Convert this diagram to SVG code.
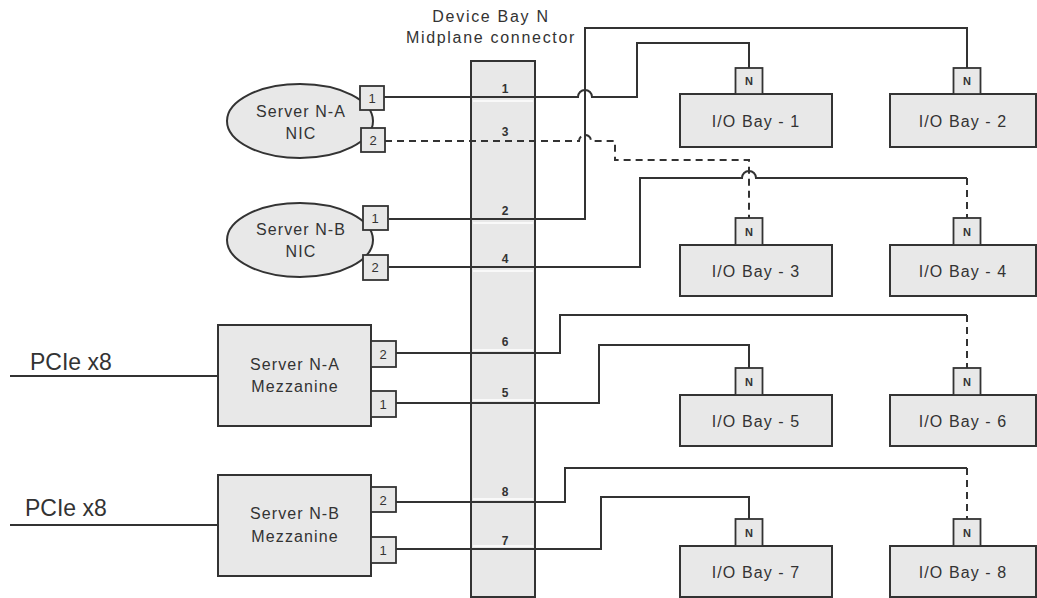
<svg xmlns="http://www.w3.org/2000/svg" width="1037" height="598" viewBox="0 0 1037 598">
<style>
  .box{fill:#e8e8e8;stroke:#333;stroke-width:2}
  .port{fill:#e8e8e8;stroke:#333;stroke-width:1.8}
  .ln{fill:none;stroke:#333;stroke-width:2}
  .dash{fill:none;stroke:#333;stroke-width:2;stroke-dasharray:7,5}
  .sep{stroke:#ffffff;stroke-width:1.5}
  text{font-family:"Liberation Sans",Arial,sans-serif;fill:#333;text-anchor:middle}
  .lbl{font-size:16px;letter-spacing:1.1px}
  .ttl{font-size:16px;letter-spacing:1.7px}
  .num{font-size:12px;font-weight:bold}
  .pn{font-size:13px}
  .n{font-size:11px;font-weight:bold}
  .pcie{font-size:23px;text-anchor:start}
</style>
<rect width="1037" height="598" fill="#ffffff"/>

<g id="title">
  <text class="ttl" x="491" y="22">Device Bay N</text>
  <text class="ttl" x="491" y="43">Midplane connector</text>
</g>

<g id="midplane">
  <rect class="box" x="471" y="61" width="64" height="536"/>
  <line class="sep" x1="473" y1="101" x2="533" y2="101"/>
  <line class="sep" x1="473" y1="223" x2="533" y2="223"/>
  <line class="sep" x1="473" y1="271" x2="533" y2="271"/>
  <line class="sep" x1="473" y1="350" x2="533" y2="350"/>
  <line class="sep" x1="473" y1="400" x2="533" y2="400"/>
  <line class="sep" x1="473" y1="499" x2="533" y2="499"/>
  <line class="sep" x1="473" y1="546" x2="533" y2="546"/>
  <text class="num" x="505" y="93">1</text>
  <text class="num" x="505" y="136">3</text>
  <text class="num" x="505" y="215">2</text>
  <text class="num" x="505" y="263">4</text>
  <text class="num" x="505" y="346">6</text>
  <text class="num" x="505" y="397">5</text>
  <text class="num" x="505" y="496">8</text>
  <text class="num" x="505" y="545">7</text>
</g>

<g id="connectors">
  <path class="ln" d="M10,376 L218,376"/>
  <path class="ln" d="M10,525 L218,525"/>
  <path class="ln" d="M389,219 L585,219 L585,28 L967,28 L967,68"/>
  <path class="ln" d="M384,97 L578,97 A7,7 0 0 1 592,97 L637,97 L637,43 L749,43 L749,68"/>
  <path class="dash" d="M385,141 L579,141 A6,6 0 0 1 591,141 L615,141 L615,160 L749,160 L749,218"/>
  <path class="ln" d="M389,267 L640,267 L640,178 L742,178 A7,7 0 0 1 756,178 L967,178"/>
  <path class="dash" d="M967,178 L967,218"/>
  <path class="ln" d="M396,353 L560,353 L560,315 L967,315"/>
  <path class="dash" d="M967,315 L967,368"/>
  <path class="ln" d="M396,403 L599,403 L599,345 L749,345 L749,368"/>
  <path class="ln" d="M396,502 L565,502 L565,468 L967,468"/>
  <path class="dash" d="M967,468 L967,519"/>
  <path class="ln" d="M396,549 L601,549 L601,497 L749,497 L749,519"/>
</g>

<g id="pcie-a"><text class="pcie" x="30" y="370">PCIe x8</text></g>
<g id="pcie-b"><text class="pcie" x="25" y="516">PCIe x8</text></g>

<g id="nic-a">
  <ellipse class="box" cx="300" cy="121" rx="73" ry="37" stroke-width="1.6"/>
  <text class="lbl" x="301" y="117">Server N-A</text>
  <text class="lbl" x="301" y="139">NIC</text>
  <rect class="port" x="360" y="86" width="24" height="24"/>
  <text class="pn" x="372" y="103">1</text>
  <rect class="port" x="361" y="128" width="24" height="24"/>
  <text class="pn" x="373" y="145">2</text>
</g>

<g id="nic-b">
  <ellipse class="box" cx="300" cy="240" rx="73" ry="37" stroke-width="1.6"/>
  <text class="lbl" x="301" y="235">Server N-B</text>
  <text class="lbl" x="301" y="257">NIC</text>
  <rect class="port" x="363" y="206" width="25" height="24"/>
  <text class="pn" x="375" y="223">1</text>
  <rect class="port" x="363" y="255" width="25" height="25"/>
  <text class="pn" x="375" y="272">2</text>
</g>

<g id="mezz-a">
  <rect class="box" x="218" y="325" width="153" height="101"/>
  <text class="lbl" x="295" y="370">Server N-A</text>
  <text class="lbl" x="295" y="392">Mezzanine</text>
  <rect class="port" x="371" y="341" width="25" height="26"/>
  <text class="pn" x="383" y="359">2</text>
  <rect class="port" x="371" y="391" width="25" height="26"/>
  <text class="pn" x="383" y="409">1</text>
</g>

<g id="mezz-b">
  <rect class="box" x="218" y="475" width="153" height="101"/>
  <text class="lbl" x="295" y="519">Server N-B</text>
  <text class="lbl" x="295" y="542">Mezzanine</text>
  <rect class="port" x="371" y="487" width="25" height="25"/>
  <text class="pn" x="383" y="505">2</text>
  <rect class="port" x="371" y="537" width="25" height="26"/>
  <text class="pn" x="383" y="555">1</text>
</g>

<g id="io-bay-1">
  <rect class="box" x="680" y="94" width="152" height="53"/>
  <rect class="port" x="735.5" y="68" width="27" height="26"/>
  <text class="n" x="749" y="85">N</text>
  <text class="lbl" x="756" y="127">I/O Bay - 1</text>
</g>
<g id="io-bay-2">
  <rect class="box" x="890" y="94" width="146" height="53"/>
  <rect class="port" x="953.5" y="68" width="27" height="26"/>
  <text class="n" x="967" y="85">N</text>
  <text class="lbl" x="963" y="127">I/O Bay - 2</text>
</g>
<g id="io-bay-3">
  <rect class="box" x="680" y="245" width="152" height="51"/>
  <rect class="port" x="735.5" y="218" width="27" height="27"/>
  <text class="n" x="749" y="236">N</text>
  <text class="lbl" x="756" y="277">I/O Bay - 3</text>
</g>
<g id="io-bay-4">
  <rect class="box" x="890" y="245" width="146" height="51"/>
  <rect class="port" x="953.5" y="218" width="27" height="27"/>
  <text class="n" x="967" y="236">N</text>
  <text class="lbl" x="963" y="277">I/O Bay - 4</text>
</g>
<g id="io-bay-5">
  <rect class="box" x="680" y="395" width="152" height="51"/>
  <rect class="port" x="735.5" y="368" width="27" height="27"/>
  <text class="n" x="749" y="386">N</text>
  <text class="lbl" x="756" y="427">I/O Bay - 5</text>
</g>
<g id="io-bay-6">
  <rect class="box" x="890" y="395" width="146" height="51"/>
  <rect class="port" x="953.5" y="368" width="27" height="27"/>
  <text class="n" x="967" y="386">N</text>
  <text class="lbl" x="963" y="427">I/O Bay - 6</text>
</g>
<g id="io-bay-7">
  <rect class="box" x="680" y="546" width="152" height="51"/>
  <rect class="port" x="735.5" y="519" width="27" height="27"/>
  <text class="n" x="749" y="537">N</text>
  <text class="lbl" x="756" y="578">I/O Bay - 7</text>
</g>
<g id="io-bay-8">
  <rect class="box" x="890" y="546" width="146" height="51"/>
  <rect class="port" x="953.5" y="519" width="27" height="27"/>
  <text class="n" x="967" y="537">N</text>
  <text class="lbl" x="963" y="578">I/O Bay - 8</text>
</g>
</svg>
